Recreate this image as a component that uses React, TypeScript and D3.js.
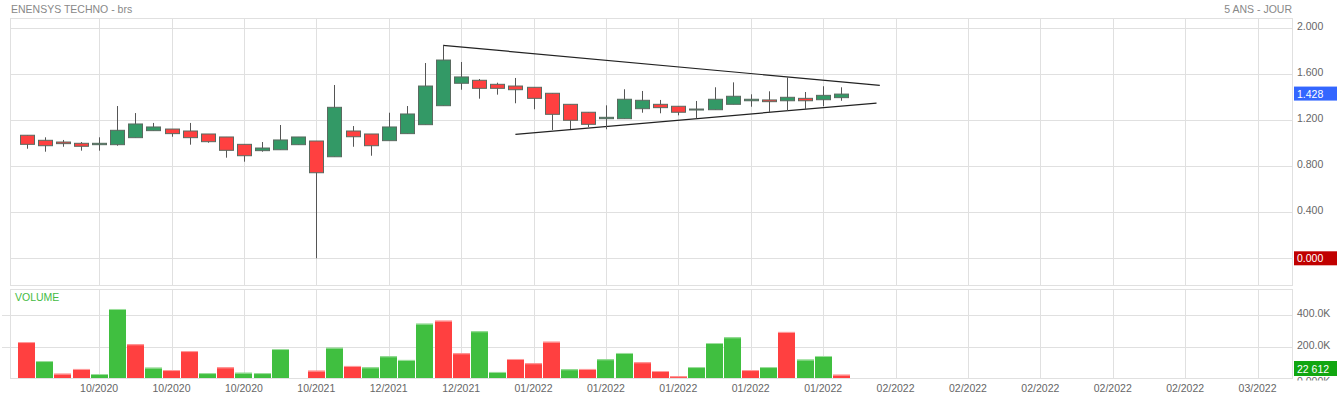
import React from 'react';
import * as d3 from 'd3';

const W = 1337;
const H = 398;

// OHLC per session (index 0..45)
const opens = [1.070, 1.026, 1.011, 1.000, 0.988, 0.988, 1.049, 1.110, 1.124, 1.107, 1.081, 1.055, 0.991, 0.936, 0.944, 0.988, 1.020, 0.883, 1.107, 1.081, 1.023, 1.084, 1.162, 1.327, 1.522, 1.548, 1.513, 1.498, 1.487, 1.435, 1.339, 1.270, 1.214, 1.214, 1.301, 1.339, 1.322, 1.294, 1.292, 1.339, 1.370, 1.377, 1.370, 1.391, 1.379, 1.397];
const highs = [1.070, 1.052, 1.029, 1.011, 1.052, 1.324, 1.263, 1.177, 1.124, 1.177, 1.081, 1.055, 0.991, 1.011, 1.159, 1.055, 1.020, 1.507, 1.150, 1.081, 1.266, 1.324, 1.698, 1.852, 1.707, 1.559, 1.527, 1.568, 1.487, 1.435, 1.339, 1.270, 1.330, 1.470, 1.455, 1.377, 1.322, 1.368, 1.487, 1.530, 1.426, 1.452, 1.574, 1.446, 1.496, 1.487];
const lows = [0.953, 0.927, 0.970, 0.936, 0.936, 0.979, 1.049, 1.110, 1.057, 0.988, 1.005, 0.875, 0.840, 0.927, 0.944, 0.988, 0.000, 0.883, 0.970, 0.892, 1.023, 1.084, 1.162, 1.327, 1.466, 1.388, 1.423, 1.348, 1.296, 1.116, 1.124, 1.142, 1.122, 1.214, 1.266, 1.261, 1.243, 1.217, 1.292, 1.339, 1.318, 1.272, 1.283, 1.296, 1.322, 1.370];
const closes = [0.991, 0.979, 0.997, 0.974, 1.000, 1.113, 1.168, 1.142, 1.084, 1.049, 1.014, 0.939, 0.892, 0.959, 1.029, 1.055, 0.744, 1.313, 1.057, 0.979, 1.142, 1.255, 1.498, 1.724, 1.577, 1.478, 1.478, 1.466, 1.391, 1.252, 1.200, 1.165, 1.226, 1.383, 1.374, 1.310, 1.270, 1.298, 1.383, 1.409, 1.383, 1.362, 1.400, 1.370, 1.417, 1.428];

const volumes = [229000, 109000, 29000, 59000, 27000, 438000, 215000, 67000, 52000, 172000, 33000, 69000, 35000, 33000, 185000, 0, 48000, 193000, 78000, 69000, 139000, 116000, 345000, 364000, 158000, 297000, 40000, 122000, 95000, 231000, 57000, 59000, 120000, 160000, 101000, 46000, 13000, 71000, 223000, 259000, 52000, 71000, 293000, 118000, 141000, 22612];
const volumeUp = [0, 1, 0, 0, 1, 1, 0, 1, 0, 0, 1, 0, 1, 1, 1, 1, 0, 1, 0, 1, 1, 1, 1, 0, 0, 1, 1, 0, 0, 0, 1, 0, 1, 1, 0, 0, 0, 1, 1, 1, 0, 1, 0, 1, 1, 0];

const priceTicks = [0, 0.4, 0.8, 1.2, 1.6, 2.0];
const volumeTicks = [200000, 400000];
const xTickIndex = [4, 8, 12, 16, 20, 24, 28, 32, 36, 40, 44, 48, 52, 56, 60, 64, 68];
const xTickLabels = ['10/2020', '10/2020', '10/2020', '10/2021', '12/2021', '12/2021', '01/2022', '01/2022', '01/2022', '01/2022', '01/2022', '02/2022', '02/2022', '02/2022', '02/2022', '02/2022', '03/2022'];

const upperTrend = [{ i: 23, v: 1.852 }, { i: 47.13, v: 1.504 }];
const lowerTrend = [{ i: 27, v: 1.078 }, { i: 46.95, v: 1.35 }];

const lastPrice = 1.428;
const lastVolume = 22612;

const FONT = '"Liberation Sans", Arial, sans-serif';

export default function App() {
  const left = 10.5;
  const right = 1292.5;
  const priceTop = 18.5;
  const priceBottom = 285.5;
  const volTop = 289.5;
  const volBottom = 378.5;

  const x = d3.scaleLinear().domain([-0.895, 69.93]).range([left, right]);
  const y = d3.scaleLinear().domain([0, 2]).range([258.3, 28.3]);
  const yv = d3.scaleLinear().domain([0, 400000]).range([378.3, 315]);

  const px = (v: number) => Math.round(v) + 0.5;

  const candles = opens.map((o, i) => ({ i, o, h: highs[i], l: lows[i], c: closes[i] }));
  const line = d3.line<{ i: number; v: number }>().x((d) => x(d.i)).y((d) => y(d.v));

  const gridColor = '#e0e0e0';
  const labelColor = '#666';

  return (
    <svg width={W} height={H} style={{ position: 'absolute', left: 0, top: 0, background: '#fff' }} fontFamily={FONT}>
      <defs>
        <clipPath id="volLabClip">
          <rect x={1293} y={290} width={44} height={90.5} />
        </clipPath>
      </defs>
      {/* title */}
      <text x={11} y={13} fontSize={10.5} fill="#888">ENENSYS TECHNO - brs</text>
      <text x={1292} y={13} fontSize={10.5} fill="#888" textAnchor="end">5 ANS - JOUR</text>

      {/* price panel frame and grid */}
      <rect x={left} y={priceTop} width={right - left} height={priceBottom - priceTop} fill="none" stroke={gridColor} />
      {priceTicks.map((t) => (
        <line key={'pg' + t} x1={left} x2={right} y1={px(y(t))} y2={px(y(t))} stroke={gridColor} />
      ))}
      {xTickIndex.map((t) => (
        <line key={'vg' + t} x1={px(x(t))} x2={px(x(t))} y1={priceTop} y2={priceBottom} stroke={gridColor} />
      ))}

      {/* volume panel frame and grid */}
      <rect x={left} y={volTop} width={right - left} height={volBottom - volTop} fill="none" stroke={gridColor} />
      {volumeTicks.map((t) => (
        <line key={'vgl' + t} x1={2} x2={right} y1={px(yv(t))} y2={px(yv(t))} stroke={gridColor} />
      ))}
      {xTickIndex.map((t) => (
        <line key={'vvg' + t} x1={px(x(t))} x2={px(x(t))} y1={volTop} y2={volBottom} stroke={gridColor} />
      ))}

      {/* price labels */}
      {priceTicks.map((t) => (
        <text key={'pl' + t} x={1297} y={y(t) + 2} fontSize={10.5} fill={labelColor}>{t.toFixed(3)}</text>
      ))}

      {/* trend lines */}
      <path d={line(upperTrend) || ''} stroke="#222" strokeWidth={1.2} fill="none" />
      <path d={line(lowerTrend) || ''} stroke="#222" strokeWidth={1.2} fill="none" />

      {/* candles */}
      {candles.map((d) => {
        const cx = px(x(d.i));
        const up = d.c >= d.o;
        const top = y(Math.max(d.o, d.c));
        const bot = y(Math.min(d.o, d.c));
        const bh = Math.max(1, bot - top);
        return (
          <g key={'c' + d.i}>
            <line x1={cx} x2={cx} y1={y(d.h)} y2={y(d.l)} stroke="#555" strokeWidth={1} />
            <rect x={cx - 7} y={top} width={14} height={bh} fill={up ? '#339966' : '#ff4040'} stroke="#5a6a60" strokeWidth={1} />
          </g>
        );
      })}

      {/* volume bars */}
      <text x={15} y={301} fontSize={10.5} fill="#44bb44">VOLUME</text>
      {volumes.map((v, i) => {
        if (v <= 0) return null;
        const cx = x(i);
        const top = yv(v);
        const col = volumeUp[i] ? '#40bf40' : '#ff4040';
        const light = volumeUp[i] ? '#9fdf9f' : '#ff9f9f';
        return (
          <g key={'v' + i}>
            <rect x={Math.round(cx - 8.5)} y={top} width={17} height={378 - top} fill={col} />
            <rect x={Math.round(cx - 8.5)} y={top} width={17} height={1} fill={light} />
          </g>
        );
      })}

      {/* volume labels */}
      <g clipPath="url(#volLabClip)">
        {volumeTicks.map((t) => (
          <text key={'vl' + t} x={1297} y={yv(t) + 2} fontSize={10.5} fill={labelColor}>{(t / 1000).toFixed(1) + 'K'}</text>
        ))}
        <text x={1297} y={385} fontSize={10.5} fill={labelColor}>0.000K</text>
      </g>

      {/* x labels */}
      {xTickIndex.map((t, k) => (
        <text key={'xl' + t} x={x(t)} y={392} fontSize={10.5} fill={labelColor} textAnchor="middle">{xTickLabels[k]}</text>
      ))}

      {/* value badges */}
      <rect x={1294} y={y(lastPrice) - 7.5} width={43} height={14} fill="#3366ff" />
      <text x={1297} y={y(lastPrice) + 3.5} fontSize={10.5} fill="#fff">{lastPrice.toFixed(3)}</text>
      <rect x={1294} y={y(0) - 7} width={43} height={14} fill="#c00000" />
      <text x={1297} y={y(0) + 4} fontSize={10.5} fill="#fff">0.000</text>
      <rect x={1294} y={361} width={43} height={15} fill="#11a611" />
      <text x={1297} y={372.5} fontSize={10.5} fill="#fff">{d3.format(',')(lastVolume).replace(',', ' ')}</text>
    </svg>
  );
}
